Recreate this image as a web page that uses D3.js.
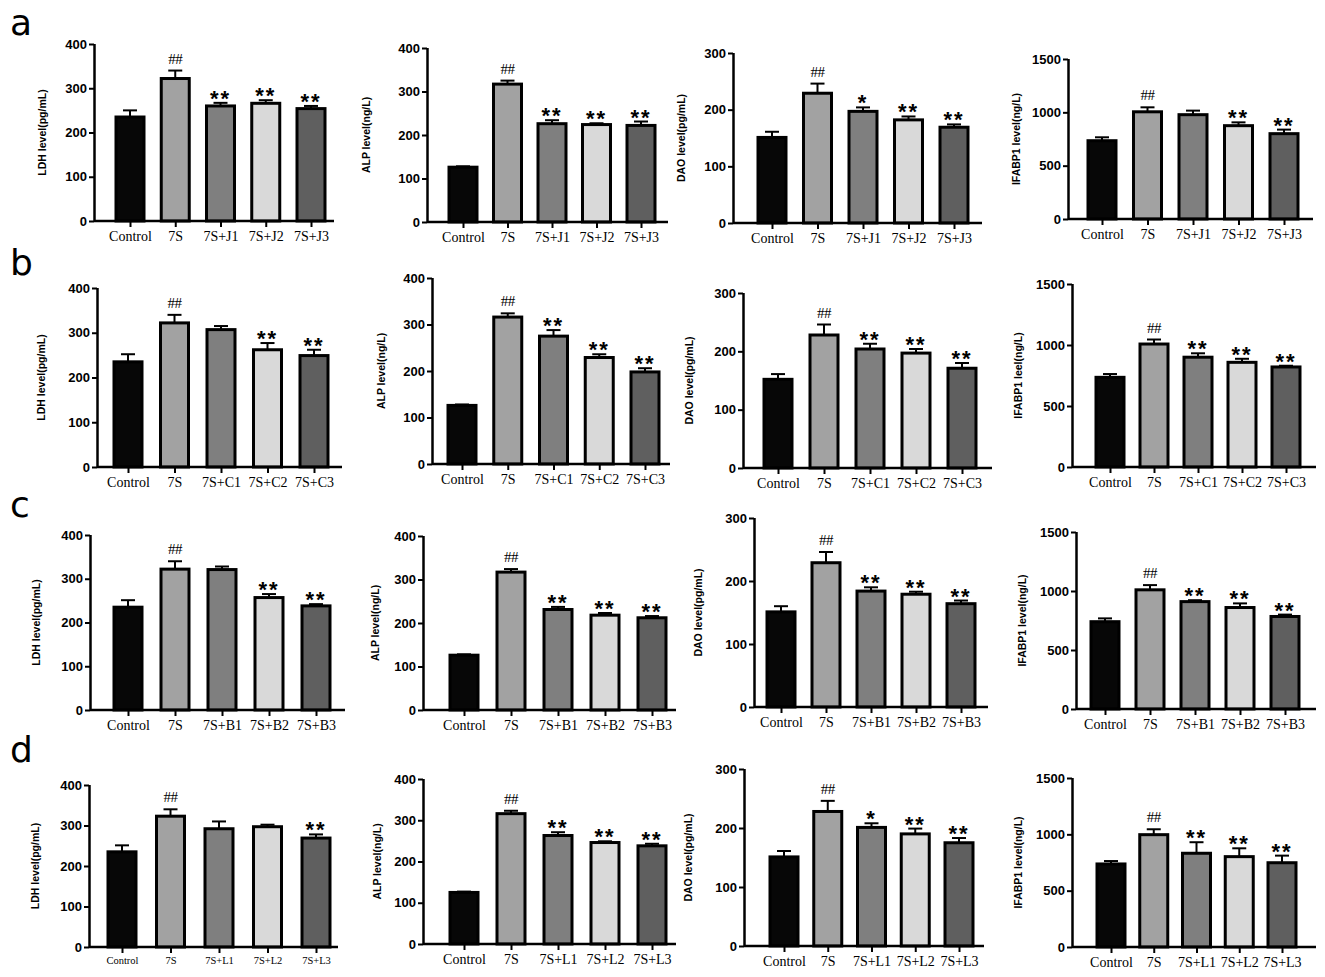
<!DOCTYPE html>
<html>
<head>
<meta charset="utf-8">
<script src="https://cdn.jsdelivr.net/npm/d3@7"></script>
<style>
  body { margin: 0; background: #fff; }
  svg { display: block; }
</style>
</head>
<body>
<div id="chart"></div>
<script>
// row letters and treatment codes
var rowNames = ["a", "b", "c", "d"];
var treatCodes = ["J", "C", "B", "L"];
var markers = ["LDH", "ALP", "DAO", "IFABP1"];

// y axis titles, [row][marker]
var yTitles = [
  ["LDH level(pg/mL)", "ALP level(ng/L)", "DAO level(pg/mL)", "IFABP1 level(ng/L)"],
  ["LDH level(pg/mL)", "ALP level(ng/L)", "DAO level(pg/mL)", "IFABP1 leel(ng/L)"],
  ["LDH level(pg/mL)", "ALP level(ng/L)", "DAO level(pg/mL)", "IFABP1 level(ng/L)"],
  ["LDH level(pg/mL)", "ALP level(ng/L)", "DAO level(pg/mL)", "IFABP1 level(ng/L)"]
];

var yMaxes = [400, 400, 300, 1500];
var yTickSteps = [100, 100, 100, 500];

// mean values, [row][group]
var ldhMean = [
  [235, 322, 260, 266, 254],
  [235, 322, 307, 262, 249],
  [235, 322, 321, 257, 238],
  [235, 323, 292, 297, 269]
];
var ldhTop = [
  [250, 340, 267, 273, 260],
  [252, 340, 315, 277, 262],
  [251, 340, 328, 265, 242],
  [251, 340, 310, 302, 278]
];
var alpMean = [
  [126, 317, 226, 224, 222],
  [126, 316, 275, 229, 198],
  [126, 317, 231, 218, 212],
  [125, 316, 263, 246, 238]
];
var alpTop = [
  [128, 325, 234, 227, 231],
  [128, 324, 288, 236, 206],
  [128, 324, 237, 223, 216],
  [127, 323, 271, 249, 243]
];
var daoMean = [
  [151, 229, 197, 182, 169],
  [152, 228, 204, 197, 171],
  [151, 229, 184, 179, 164],
  [151, 228, 201, 190, 175]
];
var daoTop = [
  [161, 246, 204, 188, 174],
  [161, 246, 213, 204, 180],
  [160, 246, 190, 183, 169],
  [161, 246, 208, 199, 183]
];
var ifabpMean = [
  [734, 1005, 978, 875, 800],
  [735, 1008, 900, 858, 820],
  [740, 1010, 910, 860, 784],
  [737, 997, 832, 802, 748]
];
var ifabpTop = [
  [766, 1047, 1016, 906, 838],
  [762, 1045, 932, 887, 830],
  [768, 1050, 922, 895, 800],
  [763, 1045, 930, 876, 811]
];

// significance marks
var ldhSig = [
  ["", "##", "**", "**", "**"],
  ["", "##", "", "**", "**"],
  ["", "##", "", "**", "**"],
  ["", "##", "", "", "**"]
];
var alpSig = [
  ["", "##", "**", "**", "**"],
  ["", "##", "**", "**", "**"],
  ["", "##", "**", "**", "**"],
  ["", "##", "**", "**", "**"]
];
var daoSig = [
  ["", "##", "*", "**", "**"],
  ["", "##", "**", "**", "**"],
  ["", "##", "**", "**", "**"],
  ["", "##", "*", "**", "**"]
];
var ifabpSig = [
  ["", "##", "", "**", "**"],
  ["", "##", "**", "**", "**"],
  ["", "##", "**", "**", "**"],
  ["", "##", "**", "**", "**"]
];

var means = [ldhMean, alpMean, daoMean, ifabpMean];
var tops = [ldhTop, alpTop, daoTop, ifabpTop];
var sigs = [ldhSig, alpSig, daoSig, ifabpSig];

var barFills = ["#070707", "#a2a2a2", "#7f7f7f", "#d9d9d9", "#5f5f5f"];

// panel placement: axis x, first/last bar centre, x axis end, top/zero y
var panelBox = [
  [
    {x0: 94, c0: 130, c4: 311, xEnd: 334, yTop: 44, yZero: 221, lab: 48},
    {x0: 427, c0: 463, c4: 641, xEnd: 668, yTop: 48, yZero: 222, lab: 57},
    {x0: 733, c0: 772, c4: 954, xEnd: 982, yTop: 53, yZero: 223, lab: 48},
    {x0: 1068, c0: 1102, c4: 1284, xEnd: 1313, yTop: 59, yZero: 219, lab: 48}
  ],
  [
    {x0: 97, c0: 128, c4: 314, xEnd: 342, yTop: 288, yZero: 467, lab: 52},
    {x0: 432, c0: 462, c4: 645, xEnd: 670, yTop: 278, yZero: 464, lab: 47},
    {x0: 743, c0: 778, c4: 962, xEnd: 992, yTop: 293, yZero: 468, lab: 50},
    {x0: 1072, c0: 1110, c4: 1286, xEnd: 1316, yTop: 284, yZero: 467, lab: 50}
  ],
  [
    {x0: 90, c0: 128, c4: 316, xEnd: 345, yTop: 535, yZero: 710, lab: 50},
    {x0: 423, c0: 464, c4: 652, xEnd: 676, yTop: 536, yZero: 710, lab: 44},
    {x0: 754, c0: 781, c4: 961, xEnd: 988, yTop: 518, yZero: 707, lab: 52},
    {x0: 1076, c0: 1105, c4: 1285, xEnd: 1316, yTop: 532, yZero: 709, lab: 50}
  ],
  [
    {x0: 89, c0: 122, c4: 316, xEnd: 338, yTop: 785, yZero: 947, lab: 50},
    {x0: 423, c0: 464, c4: 652, xEnd: 676, yTop: 779, yZero: 944, lab: 42},
    {x0: 744, c0: 784, c4: 959, xEnd: 984, yTop: 769, yZero: 946, lab: 52},
    {x0: 1072, c0: 1111, c4: 1282, xEnd: 1316, yTop: 778, yZero: 947, lab: 50}
  ]
];
var rowLetterY = [35, 275, 517, 762];

var svg = d3.select("#chart").append("svg")
  .attr("width", 1325)
  .attr("height", 977);

svg.append("rect").attr("width", 1325).attr("height", 977).attr("fill", "#fff");

rowNames.forEach(function(rowName, r) {
  svg.append("text")
    .attr("x", 10)
    .attr("y", rowLetterY[r])
    .attr("font-family", "'DejaVu Sans', sans-serif")
    .attr("font-size", "36px")
    .text(rowName);

  var cats = ["Control", "7S"].concat([1, 2, 3].map(function(k) { return "7S+" + treatCodes[r] + k; }));

  markers.forEach(function(marker, m) {
    var box = panelBox[r][m];
    var rows = cats.map(function(c, i) {
      return {cat: c, mean: means[m][r][i], top: tops[m][r][i], sig: sigs[m][r][i], fill: barFills[i]};
    });

    var y = d3.scaleLinear().domain([0, yMaxes[m]]).range([box.yZero, box.yTop]);
    var x = d3.scalePoint().domain(cats).range([box.c0, box.c4]);
    var barW = 31;

    var g = svg.append("g");

    // bars
    g.selectAll("rect.bar")
      .data(rows)
      .enter()
      .append("rect")
      .attr("class", "bar")
      .attr("x", d => x(d.cat) - barW / 2 + 1.5)
      .attr("y", d => y(d.mean))
      .attr("width", barW - 3)
      .attr("height", d => y(0) - y(d.mean))
      .attr("fill", d => d.fill)
      .attr("stroke", "#000")
      .attr("stroke-width", 3);

    // error bars (upper only)
    g.selectAll("line.err")
      .data(rows)
      .enter()
      .append("line")
      .attr("x1", d => x(d.cat))
      .attr("x2", d => x(d.cat))
      .attr("y1", d => y(d.mean))
      .attr("y2", d => y(d.top))
      .attr("stroke", "#000")
      .attr("stroke-width", 2);

    g.selectAll("line.cap")
      .data(rows)
      .enter()
      .append("line")
      .attr("x1", d => x(d.cat) - 7)
      .attr("x2", d => x(d.cat) + 7)
      .attr("y1", d => y(d.top))
      .attr("y2", d => y(d.top))
      .attr("stroke", "#000")
      .attr("stroke-width", 2);

    // significance marks
    g.selectAll("text.sig")
      .data(rows.filter(d => d.sig !== ""))
      .enter()
      .append("text")
      .attr("x", d => x(d.cat))
      .attr("y", d => d.sig === "##" ? y(d.top) - 7 : y(d.top) + 3)
      .attr("text-anchor", "middle")
      .attr("font-family", d => d.sig === "##" ? "'Liberation Serif', serif" : "'Liberation Sans', Arial, sans-serif")
      .attr("font-weight", d => d.sig === "##" ? "normal" : "bold")
      .attr("font-size", d => d.sig === "##" ? "15px" : "22px")
      .attr("letter-spacing", d => d.sig === "##" ? "-0.5px" : "2px")
      .text(d => d.sig);

    // y axis
    var yAxis = d3.axisLeft(y)
      .tickValues(d3.range(0, yMaxes[m] + 1, yTickSteps[m]))
      .tickFormat(d3.format("d"))
      .tickSize(5)
      .tickSizeOuter(0)
      .tickPadding(2);

    var yg = g.append("g")
      .attr("transform", `translate(${box.x0},0)`)
      .call(yAxis);
    yg.select(".domain").attr("stroke-width", 2.5).attr("d", `M0.5,${box.yZero}V${box.yTop}`);
    yg.selectAll(".tick line").attr("stroke-width", 2);
    yg.selectAll(".tick text")
      .attr("font-family", "'Liberation Sans', Arial, sans-serif")
      .attr("font-weight", "bold")
      .attr("font-size", "13px")
      .attr("fill", "#000");

    // x axis
    var xAxis = d3.axisBottom(x).tickSize(6).tickSizeOuter(0);
    var xg = g.append("g")
      .attr("transform", `translate(0,${box.yZero})`)
      .call(xAxis);
    xg.select(".domain").remove();
    xg.append("line")
      .attr("x1", box.x0)
      .attr("x2", box.xEnd)
      .attr("stroke", "#000")
      .attr("stroke-width", 2.5);
    xg.selectAll(".tick line").attr("stroke-width", 2);
    xg.selectAll(".tick text")
      .attr("y", 9)
      .attr("dy", "0.8em")
      .attr("font-family", "'Liberation Serif', 'Times New Roman', serif")
      .attr("font-size", (r === 3 && m === 0) ? "10.5px" : "14px")
      .attr("fill", "#000");

    // y axis title
    g.append("text")
      .attr("transform", `translate(${box.x0 - box.lab},${(box.yZero + box.yTop) / 2}) rotate(-90)`)
      .attr("text-anchor", "middle")
      .attr("font-family", "'Liberation Sans', Arial, sans-serif")
      .attr("font-weight", "bold")
      .attr("font-size", "10.5px")
      .text(yTitles[r][m]);
  });
});
</script>
</body>
</html>
